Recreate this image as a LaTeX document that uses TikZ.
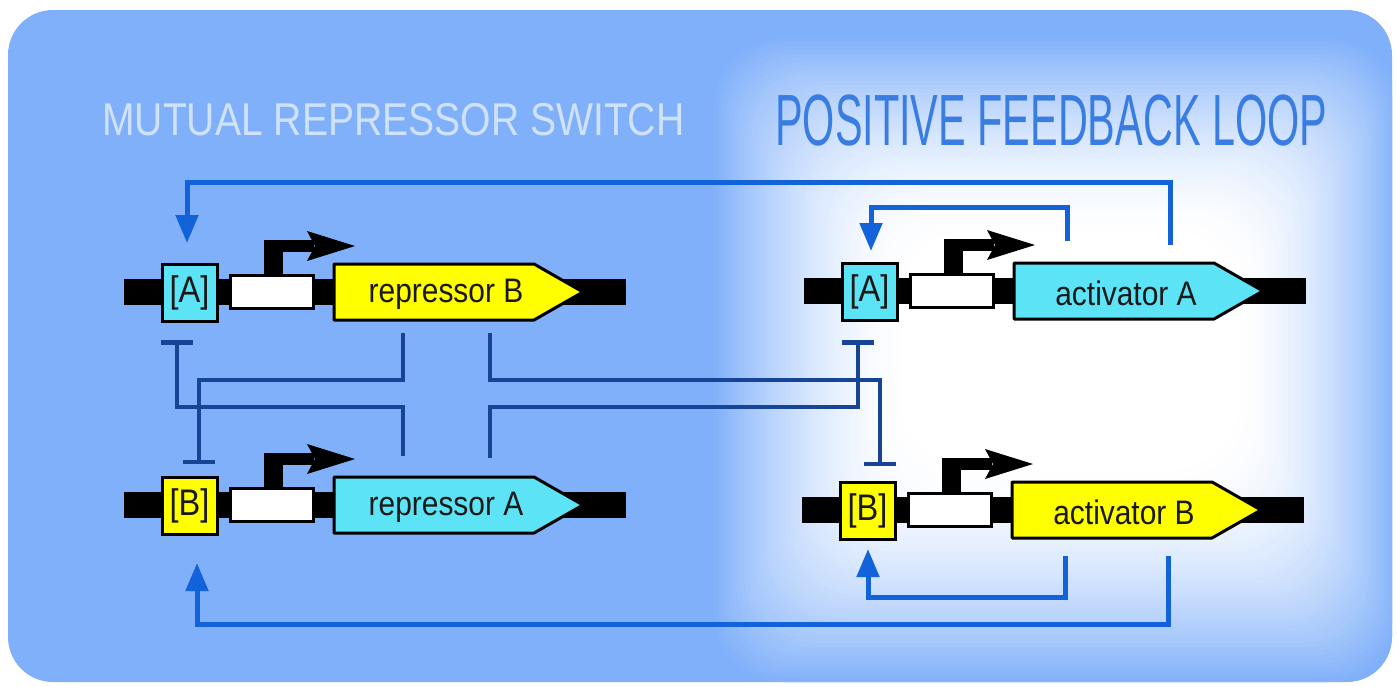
\documentclass[tikz,border=0pt]{standalone}
\usepackage{fontspec}
\setmainfont{Liberation Sans}
\newfontfamily\labelfont[FakeStretch=0.88]{Liberation Sans}
\newfontfamily\titlefontA[FakeStretch=0.85]{Liberation Sans}
\newfontfamily\titlefontB[FakeStretch=0.57]{Liberation Sans}
\usetikzlibrary{arrows.meta}
\definecolor{bgblue}{RGB}{128,176,250}
\definecolor{cyanfill}{RGB}{92,228,246}
\definecolor{yelfill}{RGB}{255,255,0}
\definecolor{navyline}{RGB}{24,68,150}
\definecolor{arrowblue}{RGB}{18,98,218}
\definecolor{titlepale}{RGB}{208,226,250}
\definecolor{titleblue}{RGB}{58,125,226}
\definecolor{textdark}{RGB}{25,25,25}
\tikzset{
  opbox/.style={draw=black, line width=3pt, inner sep=0pt, minimum width=55pt, minimum height=57pt, text=textdark, font=\labelfont\fontsize{37}{40}\selectfont},
  prombox/.style={draw=black, fill=white, line width=3pt, inner sep=0pt, minimum width=83pt, minimum height=33pt},
  outl/.style={draw=black, line width=3pt, line join=round},
  genelabel/.style={text=textdark, inner sep=0pt, font=\labelfont\fontsize{34}{36}\selectfont},
  rep/.style={draw=navyline, line width=4.5pt, -{Bar[width=32pt, line width=4.5pt]}},
  act/.style={draw=arrowblue, line width=5pt, -{Triangle[length=28pt, width=22pt]}},
}
\newcommand\drawgene[7]{%
  \fill[black] ({#2-38},{#3-13}) rectangle ({#2+464},{#3+13});
  \fill[black] ({#2+102},{#3-17}) rectangle ({#2+121},{#3-52});
  \fill[black] ({#2+102},{#3-52}) rectangle ({#2+152},{#3-40});
  \fill[black] ({#2+193},{#3-46}) -- ({#2+145},{#3-61}) -- ({#2+153},{#3-46}) -- ({#2+145},{#3-31}) -- cycle;
  \node[opbox, fill=#5] (#1-op) at ({#2+27.5},{#3+0.5}) {#4};
  \node[prombox] (#1-pr) at ({#2+109.5},{#3}) {};
  \draw[outl, fill=#7] ({#2+172},{#3-28}) -- ({#2+372},{#3-28}) -- ({#2+421},{#3}) -- ({#2+372},{#3+28}) -- ({#2+172},{#3+28}) -- cycle;
  \node[genelabel] (#1-lab) at ({#2+284},{#3+2}) {#6};
}
\begin{document}
\begin{tikzpicture}[x=1pt, y=-1pt]
\useasboundingbox (0,0) rectangle (1397,686);
\fill[white] (0,0) rectangle (1397,686);
\fill[bgblue, rounded corners=45pt] (8,10) rectangle (1392,682);
% glow
\begin{scope}
\clip[rounded corners=45pt] (8,10) rectangle (1392,682);
\foreach \i in {0,...,49}{
  \pgfmathsetmacro\xa{714+\i/49*(900-714)}
  \pgfmathsetmacro\ya{38+\i/49*(230-38)}
  \pgfmathsetmacro\xb{1398-\i/49*(1398-1240)}
  \pgfmathsetmacro\yb{682-\i/49*(682-470)}
  \pgfmathtruncatemacro\p{100*(1-(1-(\i+1)/50)^1.6)}
  \fill[white!\p!bgblue, rounded corners=70pt] (\xa,\ya) rectangle (\xb,\yb);
}
\end{scope}
% titles
\node[anchor=base west, inner sep=0pt, text=titlepale, font=\titlefontA\fontsize{46}{50}\selectfont] (t1) at (102,135) {MUTUAL REPRESSOR SWITCH};
\node[anchor=base west, inner sep=0pt, text=titleblue, font=\titlefontB\fontsize{72.6}{76}\selectfont] (t2) at (775,145) {POSITIVE FEEDBACK LOOP};
% coordinates for connectors
\coordinate (rB1) at (403,333);
\coordinate (rB2) at (490,333);
\coordinate (rA1) at (403,456);
\coordinate (rA2) at (490,458);
\coordinate (tAL) at (177,340);
\coordinate (tBL) at (199,464);
\coordinate (tAR) at (858,340);
\coordinate (tBR) at (880,466);
\coordinate (aAo) at (1170,245);
\coordinate (aAi) at (1067,241);
\coordinate (aBi) at (1065,556);
\coordinate (aBo) at (1168,556);
\coordinate (hAL) at (187,243);
\coordinate (hAR) at (871,251);
\coordinate (hBR) at (868,549);
\coordinate (hBL) at (197,563);
% repression connectors
\draw[rep] (rB1) -- (403,380) -| (tBL);
\draw[rep] (rA1) -- (403,407) -| (tAL);
\draw[rep] (rB2) -- (490,380) -| (tBR);
\draw[rep] (rA2) -- (490,407) -| (tAR);
% activation connectors
\draw[act] (aAo) -- (1170,182) -| (hAL);
\draw[act] (aAi) -- (1067,207) -| (hAR);
\draw[act] (aBi) -- (1065,597) -| (hBR);
\draw[act] (aBo) -- (1168,624) -| (hBL);
% genes
\drawgene{gTL}{162}{292}{[A]}{cyanfill}{repressor B}{yelfill}
\drawgene{gBL}{162}{505}{[B]}{yelfill}{repressor A}{cyanfill}
\drawgene{gTR}{842}{291}{[A]}{cyanfill}{activator A}{cyanfill}
\drawgene{gBR}{840}{510}{[B]}{yelfill}{activator B}{yelfill}
\end{tikzpicture}
\end{document}
